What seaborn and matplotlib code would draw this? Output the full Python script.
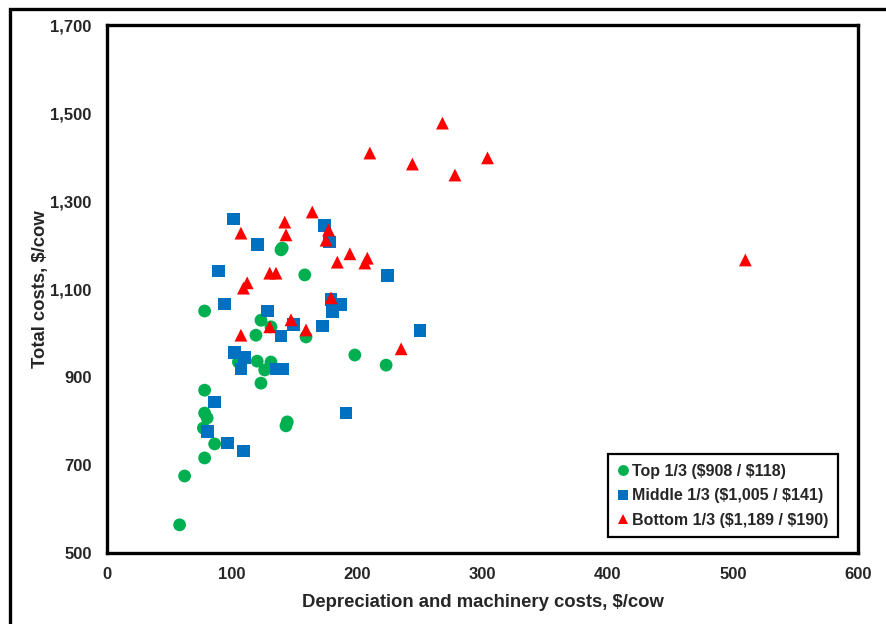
import matplotlib
matplotlib.use("Agg")
import matplotlib.pyplot as plt
import seaborn as sns
import pandas as pd
from matplotlib.patches import Rectangle

# Data (Depreciation & machinery costs $/cow, Total costs $/cow)
top_x = [58, 62, 78, 86, 77, 78, 80, 78, 143, 144, 123, 78, 123, 131, 119, 159, 105, 120, 131, 126, 139, 140, 158, 198, 223]
top_y = [564, 675, 716, 748, 784, 818, 807, 870, 789, 798, 886, 1050, 1029, 1014, 995, 991, 934, 936, 934, 916, 1189, 1193, 1132, 950, 927]

mid_x = [101, 120, 89, 94, 128, 149, 139, 102, 110, 107, 135, 140, 86, 80, 96, 109, 174, 178, 224, 179, 187, 180, 172, 250, 191]
mid_y = [1259, 1202, 1141, 1066, 1050, 1020, 993, 955, 945, 918, 918, 918, 843, 777, 750, 732, 1245, 1207, 1130, 1077, 1064, 1048, 1016, 1005, 818]

bot_x = [268, 210, 244, 304, 278, 510, 164, 142, 143, 107, 130, 135, 112, 109, 177, 175, 184, 194, 208, 206, 179, 159, 147, 235, 107, 130]
bot_y = [1477, 1409, 1384, 1398, 1359, 1166, 1275, 1252, 1223, 1227, 1136, 1136, 1114, 1102, 1234, 1211, 1161, 1180, 1170, 1159, 1080, 1007, 1030, 964, 995, 1014]

groups = ["Top 1/3 ($908 / $118)", "Middle 1/3 ($1,005 / $141)", "Bottom 1/3 ($1,189 / $190)"]
colors = ["#00B050", "#0070C0", "#FF0000"]
markers = ["o", "s", "^"]

x_ticks = [0, 100, 200, 300, 400, 500, 600]
y_ticks = [500, 700, 900, 1100, 1300, 1500, 1700]

df = pd.concat([
    pd.DataFrame({"x": top_x, "y": top_y, "group": groups[0]}),
    pd.DataFrame({"x": mid_x, "y": mid_y, "group": groups[1]}),
    pd.DataFrame({"x": bot_x, "y": bot_y, "group": groups[2]}),
], ignore_index=True)

sns.set_style("white")
plt.rcParams["font.family"] = ["Liberation Sans", "DejaVu Sans"]
plt.rcParams["font.weight"] = "bold"
plt.rcParams["text.parse_math"] = False

fig = plt.figure(figsize=(8.86, 6.24), dpi=100)
ax = fig.add_axes([107/886, 1 - 553/624, (858-107)/886, (553-25)/624])

sns.scatterplot(data=df, x="x", y="y", hue="group", style="group",
                hue_order=groups, style_order=groups,
                palette=dict(zip(groups, colors)),
                markers=dict(zip(groups, markers)),
                s=85, linewidth=0, ax=ax, legend=True)

ax.set_xlim(0, 600)
ax.set_ylim(500, 1700)
ax.set_xticks(x_ticks)
ax.set_yticks(y_ticks)
ax.set_xticklabels([f"{v:,}" for v in x_ticks], fontsize=12, fontweight="bold")
ax.set_yticklabels([f"{v:,}" for v in y_ticks], fontsize=12, fontweight="bold")
ax.tick_params(axis="both", length=0)
ax.tick_params(axis="y", pad=11)
ax.tick_params(axis="x", pad=10)
ax.grid(False)
for sp in ax.spines.values():
    sp.set_visible(True)
    sp.set_color("black")
    sp.set_linewidth(2.4)

ax.set_xlabel("Depreciation and machinery costs, $/cow", fontsize=13.3, fontweight="bold", labelpad=9)
ax.set_ylabel("Total costs, $/cow", fontsize=13.3, fontweight="bold", labelpad=1)

handles, labels = ax.get_legend_handles_labels()
leg = ax.legend(handles, groups, loc="lower right", bbox_to_anchor=(0.984, 0.015),
                frameon=True, fancybox=False, edgecolor="black", framealpha=1,
                prop={"size": 11.5, "weight": "bold"}, handlelength=0.7,
                handletextpad=0.2, labelspacing=0.58, borderpad=0.6,
                borderaxespad=0.5, markerscale=0.85)
leg.get_frame().set_linewidth(1.6)

# outer chart border
fig.patches.append(Rectangle((10/886, -0.2), 2.0, 0.2 + 1 - 8.5/624,
                             transform=fig.transFigure, fill=False,
                             edgecolor="black", linewidth=2.4, clip_on=False))

fig.savefig("out.png", dpi=100)
